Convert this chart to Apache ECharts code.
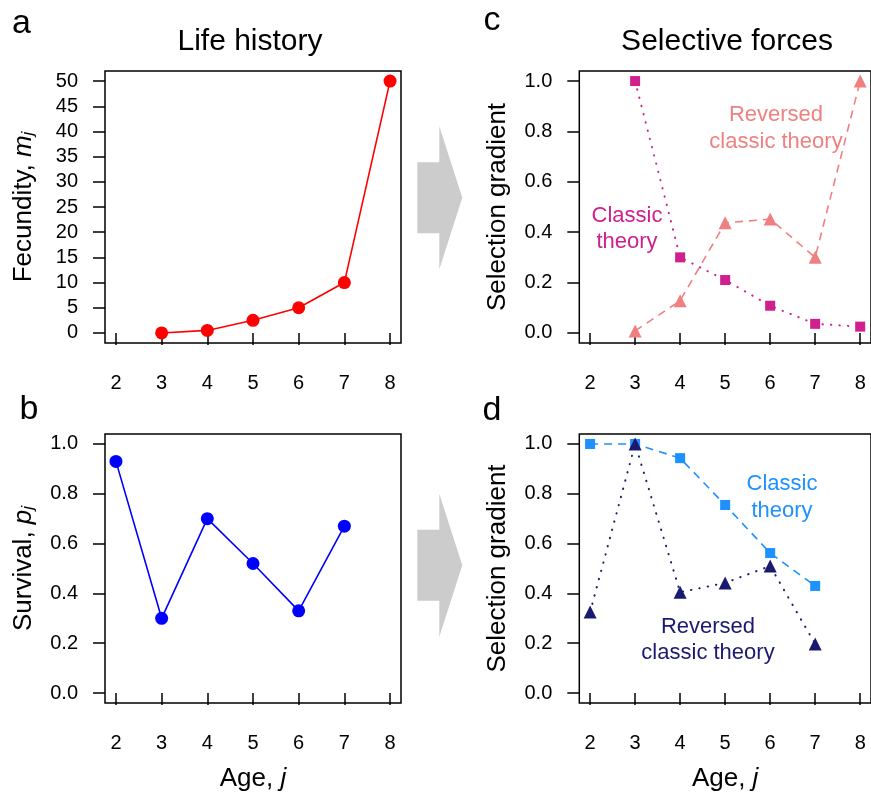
<!DOCTYPE html>
<html>
<head>
<meta charset="utf-8">
<script src="https://cdn.jsdelivr.net/npm/echarts@6/dist/echarts.min.js"></script>
<style>
html,body{margin:0;padding:0;background:#fff;}
#chart{width:871px;height:793px;}
</style>
</head>
<body>
<div id="chart"></div>
<script>
// ---- data ----
const xTicks = [2, 3, 4, 5, 6, 7, 8];
const fecundityTicks = [0, 5, 10, 15, 20, 25, 30, 35, 40, 45, 50];
const unitTicks = [0, 0.2, 0.4, 0.6, 0.8, 1.0];

const fecAges = [3, 4, 5, 6, 7, 8];
const fecundity = [0, 0.5, 2.5, 5, 10, 50];

const survAges = [2, 3, 4, 5, 6, 7];
const survival = [0.93, 0.30, 0.70, 0.52, 0.33, 0.67];

const cAges = [3, 4, 5, 6, 7, 8];
const cClassic = [1.0, 0.30, 0.21, 0.108, 0.036, 0.025];
const cReversed = [0.008, 0.128, 0.437, 0.452, 0.30, 1.0];

const dAges = [2, 3, 4, 5, 6, 7];
const dClassic = [1.0, 1.0, 0.943, 0.755, 0.562, 0.43];
const dReversed = [0.325, 1.0, 0.405, 0.442, 0.51, 0.197];

// ---- styles ----
const FONT = '"Liberation Sans", Arial, Helvetica, sans-serif';
const RED = '#FF0000', BLUE = '#0000FF', MAG = '#D0208E', SALMON = '#F08080', DODGER = '#1E90FF', NAVY = '#1A1A6E';
const DOTTED = {type: [0.4, 8.1], cap: 'round', width: 2};
const DASHED = {type: [8, 6], cap: 'butt', width: 1.6};
const SOLID = {type: 'solid', cap: 'butt', width: 1.6};

function pairs(xs, ys) { return xs.map((x, i) => [x, ys[i]]); }

const gridsPos = [
  {left: 105, top: 71, width: 296, height: 272},
  {left: 105, top: 434, width: 296, height: 272},
  {left: 579.3, top: 71, width: 296.5, height: 272},
  {left: 579.3, top: 434, width: 296.5, height: 272}
];

const grids = gridsPos.map(g => Object.assign({show: true, borderColor: '#000', borderWidth: 1.5, backgroundColor: 'transparent'}, g));

function xAxis(idx, withName) {
  const ax = {
    type: 'value', gridIndex: idx, min: 1.76, max: 8.24,
    axisLine: {show: false},
    axisTick: {show: true, length: 12, lineStyle: {color: '#000', width: 1.5}, customValues: xTicks},
    axisLabel: {show: true, margin: 30, fontSize: 20, color: '#000', fontFamily: FONT, customValues: xTicks},
    splitLine: {show: false}
  };
  if (withName) {
    ax.name = '{n|Age, }{i|j}';
    ax.nameLocation = 'middle';
    ax.nameGap = 63;
    ax.nameTextStyle = {rich: {
      n: {fontSize: 26, fontFamily: FONT, color: '#000'},
      i: {fontSize: 26, fontFamily: FONT, color: '#000', fontStyle: 'italic'}
    }};
  }
  return ax;
}

function yAxis(idx, min, max, ticks, name, fmt) {
  return {
    type: 'value', gridIndex: idx, min: min, max: max,
    axisLine: {show: false},
    axisTick: {show: true, length: 12, lineStyle: {color: '#000', width: 1.5}, customValues: ticks},
    axisLabel: {show: true, margin: 27, fontSize: 20, color: '#000', fontFamily: FONT, customValues: ticks, formatter: fmt},
    splitLine: {show: false},
    name: name, nameLocation: 'middle', nameGap: 68,
    nameTextStyle: {rich: {
      n: {fontSize: 26, fontFamily: FONT, color: '#000'},
      i: {fontSize: 26, fontFamily: FONT, color: '#000', fontStyle: 'italic'},
      s: {fontSize: 17, fontFamily: FONT, color: '#000', fontStyle: 'italic', verticalAlign: 'bottom'}
    }}
  };
}

const f1 = v => Number(v).toFixed(1);
const f0 = v => String(Math.round(v));

function line(xi, yi, data, color, symbol, size, ls) {
  return {
    type: 'line', xAxisIndex: xi, yAxisIndex: yi, data: data,
    symbol: symbol, symbolSize: size, showSymbol: true, clip: false,
    lineStyle: Object.assign({color: color}, ls),
    itemStyle: {color: color},
    emphasis: {disabled: true}, animation: false, z: 3
  };
}

function arrow(y0) {
  return {
    type: 'polygon', silent: true,
    shape: {points: [
      [417.3, y0 - 35.5], [439.3, y0 - 35.5], [439.3, y0 - 71.5], [462.3, y0],
      [439.3, y0 + 71.5], [439.3, y0 + 35.5], [417.3, y0 + 35.5]
    ]},
    style: {fill: '#CCCCCC'}
  };
}

function txt(x, y, lines, color) {
  return {
    type: 'text', x: x, y: y, silent: true,
    style: {text: lines, fill: color, font: '22px ' + FONT, align: 'center', verticalAlign: 'middle', lineHeight: 26.5}
  };
}

function title(t, left, top, size, align) {
  const o = {text: t, left: left, top: top, padding: 0, textStyle: {fontSize: size, fontWeight: 'normal', color: '#000', fontFamily: FONT}};
  if (align) o.textAlign = align;
  return o;
}

const option = {
  animation: false,
  backgroundColor: '#fff',
  title: [
    title('Life history', 250, 27, 30, 'center'),
    title('Selective forces', 727, 27, 30, 'center'),
    title('a', 12, 7, 34),
    title('b', 19.5, 393, 34),
    title('c', 483.5, 4, 34),
    title('d', 482.6, 394, 34)
  ],
  grid: grids,
  xAxis: [xAxis(0, false), xAxis(1, true), xAxis(2, false), xAxis(3, true)],
  yAxis: [
    yAxis(0, -2, 52, fecundityTicks, '{n|Fecundity, }{i|m}{s|j}', f0),
    yAxis(1, -0.04, 1.04, unitTicks, '{n|Survival, }{i|p}{s|j}', f1),
    yAxis(2, -0.04, 1.04, unitTicks, '{n|Selection gradient}', f1),
    yAxis(3, -0.04, 1.04, unitTicks, '{n|Selection gradient}', f1)
  ],
  series: [
    line(0, 0, pairs(fecAges, fecundity), RED, 'circle', 13, SOLID),
    line(1, 1, pairs(survAges, survival), BLUE, 'circle', 13, SOLID),
    line(2, 2, pairs(cAges, cClassic), MAG, 'rect', 10, DOTTED),
    line(2, 2, pairs(cAges, cReversed), SALMON, 'triangle', 13, DASHED),
    line(3, 3, pairs(dAges, dClassic), DODGER, 'rect', 10, DASHED),
    line(3, 3, pairs(dAges, dReversed), NAVY, 'triangle', 13, DOTTED)
  ],
  graphic: [
    arrow(197.7),
    arrow(565.3),
    txt(627, 229, 'Classic\ntheory', MAG),
    txt(776, 128.5, 'Reversed\nclassic theory', SALMON),
    txt(782, 497.5, 'Classic\ntheory', DODGER),
    txt(708, 640, 'Reversed\nclassic theory', NAVY)
  ]
};

const chart = echarts.init(document.getElementById('chart'), null, {renderer: 'canvas'});
chart.setOption(option);
</script>
</body>
</html>
